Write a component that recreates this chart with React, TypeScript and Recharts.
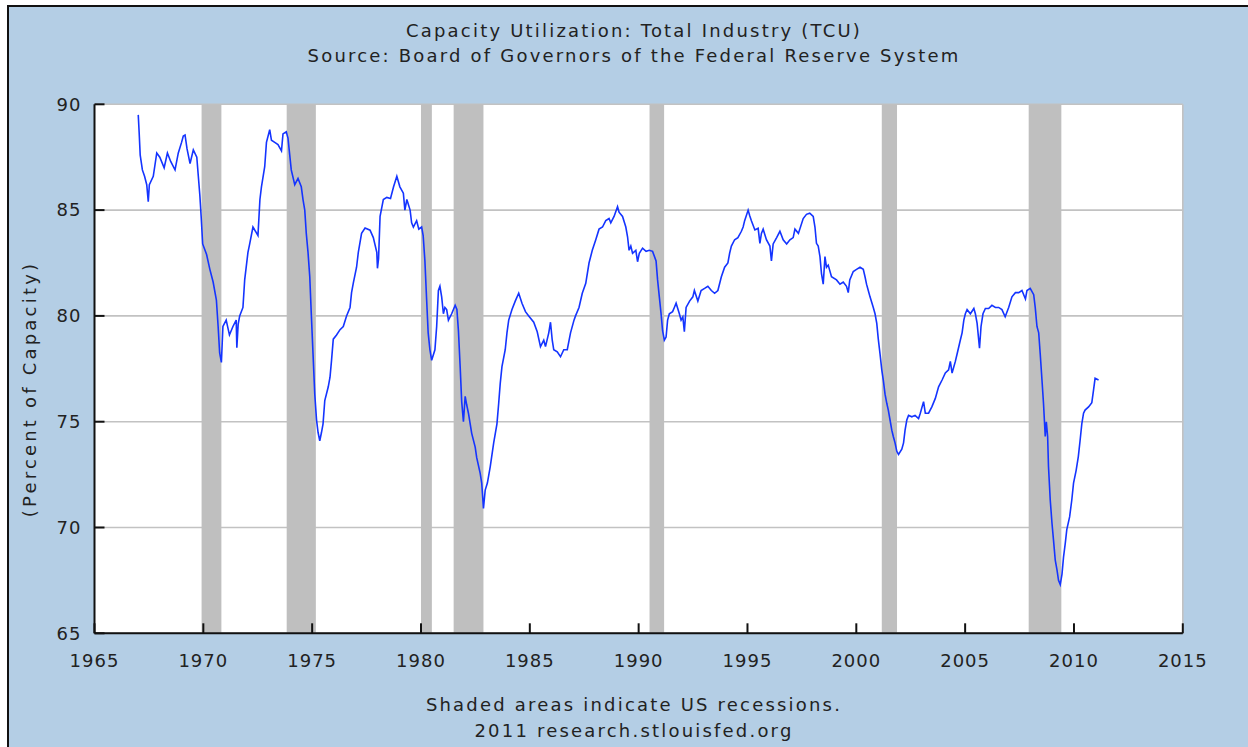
import React from "react";
import {
  LineChart,
  Line,
  XAxis,
  YAxis,
  CartesianGrid,
  ReferenceArea,
  ReferenceLine,
} from "recharts";

// Decimal-year positions of the plotted readings
const dates: number[] = [
  1967.01, 1967.05, 1967.1, 1967.2, 1967.3, 1967.4, 1967.47, 1967.52, 1967.7, 1967.86,
  1968.0, 1968.2, 1968.35, 1968.5, 1968.7, 1968.85, 1969.0, 1969.08, 1969.16, 1969.25,
  1969.39, 1969.54, 1969.7, 1969.77, 1969.84, 1969.9, 1969.97, 1970.15, 1970.3, 1970.45,
  1970.6, 1970.68, 1970.75, 1970.83, 1970.9, 1971.05, 1971.2, 1971.36, 1971.51, 1971.54,
  1971.6, 1971.67, 1971.82, 1971.9, 1972.05, 1972.13, 1972.28, 1972.51, 1972.6, 1972.67,
  1972.82, 1972.9, 1973.05, 1973.13, 1973.28, 1973.43, 1973.59, 1973.66, 1973.81, 1973.89,
  1973.97, 1974.04, 1974.2, 1974.35, 1974.5, 1974.58, 1974.66, 1974.73, 1974.81, 1974.89,
  1974.96, 1975.04, 1975.12, 1975.2, 1975.27, 1975.35, 1975.43, 1975.5, 1975.58, 1975.74,
  1975.82, 1975.89, 1975.97, 1976.12, 1976.28, 1976.43, 1976.58, 1976.74, 1976.81, 1976.89,
  1977.04, 1977.12, 1977.27, 1977.43, 1977.66, 1977.81, 1977.97, 1978.0, 1978.05, 1978.12,
  1978.27, 1978.43, 1978.6, 1978.74, 1978.89, 1979.03, 1979.19, 1979.26, 1979.35, 1979.5,
  1979.57, 1979.65, 1979.8, 1979.9, 1980.03, 1980.1, 1980.18, 1980.26, 1980.33, 1980.41,
  1980.49, 1980.64, 1980.72, 1980.8, 1980.87, 1980.95, 1981.03, 1981.1, 1981.18, 1981.26,
  1981.41, 1981.57, 1981.65, 1981.72, 1981.8, 1981.87, 1981.95, 1982.03, 1982.1, 1982.18,
  1982.33, 1982.49, 1982.56, 1982.72, 1982.79, 1982.87, 1982.95, 1983.05, 1983.18, 1983.34,
  1983.49, 1983.57, 1983.64, 1983.72, 1983.87, 1983.95, 1984.03, 1984.18, 1984.33, 1984.49,
  1984.64, 1984.8, 1984.95, 1985.18, 1985.34, 1985.49, 1985.64, 1985.72, 1985.87, 1985.95,
  1986.03, 1986.1, 1986.26, 1986.41, 1986.56, 1986.72, 1986.87, 1987.03, 1987.1, 1987.26,
  1987.41, 1987.57, 1987.72, 1987.87, 1988.03, 1988.18, 1988.34, 1988.49, 1988.64, 1988.72,
  1988.87, 1989.03, 1989.1, 1989.26, 1989.41, 1989.49, 1989.56, 1989.64, 1989.72, 1989.87,
  1989.95, 1990.03, 1990.18, 1990.34, 1990.49, 1990.64, 1990.8, 1990.87, 1990.95, 1991.03,
  1991.1, 1991.18, 1991.26, 1991.33, 1991.41, 1991.56, 1991.64, 1991.72, 1991.87, 1991.95,
  1992.03, 1992.1, 1992.18, 1992.34, 1992.49, 1992.56, 1992.72, 1992.87, 1993.03, 1993.18,
  1993.34, 1993.49, 1993.64, 1993.8, 1993.95, 1994.1, 1994.18, 1994.26, 1994.41, 1994.56,
  1994.72, 1994.8, 1994.87, 1995.03, 1995.1, 1995.18, 1995.34, 1995.49, 1995.57, 1995.64,
  1995.72, 1995.87, 1996.03, 1996.1, 1996.18, 1996.34, 1996.49, 1996.64, 1996.8, 1996.95,
  1997.1, 1997.18, 1997.34, 1997.56, 1997.71, 1997.86, 1998.02, 1998.1, 1998.17, 1998.25,
  1998.33, 1998.4, 1998.48, 1998.56, 1998.63, 1998.71, 1998.86, 1999.09, 1999.25, 1999.4,
  1999.55, 1999.63, 1999.7, 1999.86, 2000.01, 2000.17, 2000.32, 2000.4, 2000.47, 2000.55,
  2000.63, 2000.78, 2000.86, 2000.94, 2001.01, 2001.09, 2001.17, 2001.24, 2001.32, 2001.4,
  2001.47, 2001.55, 2001.63, 2001.7, 2001.78, 2001.86, 2001.94, 2002.09, 2002.17, 2002.24,
  2002.32, 2002.4, 2002.55, 2002.7, 2002.86, 2002.94, 2003.09, 2003.17, 2003.32, 2003.47,
  2003.63, 2003.78, 2003.94, 2004.09, 2004.24, 2004.32, 2004.4, 2004.55, 2004.63, 2004.78,
  2004.86, 2004.94, 2005.01, 2005.09, 2005.24, 2005.4, 2005.47, 2005.55, 2005.66, 2005.73,
  2005.82, 2005.93, 2006.08, 2006.23, 2006.39, 2006.54, 2006.69, 2006.84, 2007.0, 2007.15,
  2007.31, 2007.46, 2007.61, 2007.77, 2007.84, 2007.99, 2008.15, 2008.22, 2008.3, 2008.38,
  2008.45, 2008.53, 2008.6, 2008.68, 2008.73, 2008.79, 2008.83, 2008.91, 2008.99, 2009.06,
  2009.14, 2009.22, 2009.29, 2009.37, 2009.45, 2009.52, 2009.6, 2009.67, 2009.8, 2009.9,
  2009.98, 2010.1, 2010.2, 2010.28, 2010.36, 2010.44, 2010.51, 2010.67, 2010.82, 2010.9,
  2010.97, 2011.13,
];

// Capacity utilization, percent of capacity
const tcu: number[] = [
  89.5, 88.7, 87.6, 86.9, 86.6, 86.2, 85.4, 86.2, 86.6, 87.7,
  87.5, 87.0, 87.7, 87.3, 86.9, 87.7, 88.2, 88.5, 88.55, 87.9,
  87.2, 87.85, 87.5, 86.6, 85.7, 84.7, 83.4, 82.9, 82.2, 81.6,
  80.75, 79.5, 78.25, 77.8, 79.5, 79.8, 79.1, 79.5, 79.8, 78.5,
  79.6, 80.0, 80.4, 81.7, 83.0, 83.4, 84.2, 83.8, 85.5, 86.1,
  87.05, 88.2, 88.8, 88.3, 88.2, 88.1, 87.8, 88.6, 88.7, 88.4,
  87.6, 86.9, 86.2, 86.5, 86.1, 85.5, 85.0, 83.9, 83.0, 81.85,
  80.1, 78.2, 76.3, 75.1, 74.5, 74.1, 74.5, 74.9, 76.0, 76.65,
  77.1, 77.9, 78.9, 79.1, 79.35, 79.5, 80.0, 80.4, 81.1, 81.55,
  82.3, 83.0, 83.9, 84.15, 84.05, 83.7, 83.0, 82.25, 82.7, 84.7,
  85.5, 85.6, 85.55, 86.1, 86.6, 86.1, 85.8, 85.0, 85.5, 85.0,
  84.4, 84.2, 84.5, 84.1, 84.2, 83.8, 82.6, 80.75, 79.2, 78.4,
  77.9, 78.4, 79.5, 81.2, 81.4, 80.9, 80.1, 80.4, 80.3, 79.8,
  80.1, 80.5, 80.3, 79.3, 77.6, 75.95, 75.0, 76.2, 75.8, 75.4,
  74.45, 73.8, 73.3, 72.56, 72.1, 70.9, 71.77, 72.1, 72.87, 74.0,
  74.9, 75.87, 76.8, 77.6, 78.4, 79.2, 79.8, 80.3, 80.7, 81.07,
  80.6, 80.2, 80.0, 79.7, 79.25, 78.55, 78.85, 78.55, 79.2, 79.7,
  78.85, 78.4, 78.3, 78.07, 78.4, 78.4, 79.2, 79.8, 80.0, 80.4,
  81.07, 81.54, 82.5, 83.1, 83.6, 84.1, 84.2, 84.5, 84.6, 84.4,
  84.7, 85.16, 84.9, 84.7, 84.2, 83.74, 83.1, 83.3, 82.96, 83.1,
  82.56, 82.96, 83.2, 83.05, 83.1, 83.05, 82.6, 81.7, 80.9, 80.1,
  79.3, 78.85, 79.0, 79.8, 80.1, 80.2, 80.4, 80.6, 80.1, 79.8,
  79.95, 79.25, 80.4, 80.7, 80.9, 81.2, 80.7, 81.2, 81.3, 81.4,
  81.2, 81.07, 81.2, 81.85, 82.3, 82.5, 82.96, 83.3, 83.6, 83.7,
  84.0, 84.2, 84.5, 85.0, 84.75, 84.5, 84.06, 84.14, 83.43, 83.9,
  84.1, 83.6, 83.3, 82.6, 83.4, 83.7, 84.0, 83.6, 83.4, 83.6,
  83.7, 84.1, 83.9, 84.6, 84.8, 84.85, 84.7, 84.2, 83.43, 83.3,
  82.8, 82.0, 81.5, 82.8, 82.3, 82.4, 81.85, 81.7, 81.5, 81.6,
  81.4, 81.1, 81.7, 82.1, 82.2, 82.3, 82.2, 81.85, 81.5, 81.2,
  80.9, 80.4, 80.1, 79.65, 78.9, 78.2, 77.45, 76.97, 76.3, 75.87,
  75.55, 75.08, 74.6, 74.3, 74.0, 73.6, 73.45, 73.7, 74.0, 74.6,
  75.08, 75.3, 75.23, 75.3, 75.15, 75.4, 75.95, 75.4, 75.4, 75.7,
  76.1, 76.65, 76.97, 77.3, 77.45, 77.85, 77.3, 77.85, 78.2, 78.86,
  79.2, 79.8, 80.1, 80.3, 80.1, 80.35, 80.1, 79.65, 78.47, 79.5,
  80.1, 80.35, 80.35, 80.5, 80.4, 80.4, 80.3, 79.96, 80.4, 80.9,
  81.1, 81.1, 81.2, 80.8, 81.2, 81.3, 81.0, 80.4, 79.5, 79.2,
  78.2, 76.97, 75.87, 74.3, 75.0, 74.3, 72.87, 71.3, 70.2, 69.4,
  68.46, 68.0, 67.5, 67.3, 67.8, 68.6, 69.25, 69.9, 70.5, 71.3,
  72.1, 72.7, 73.35, 74.1, 74.9, 75.4, 75.55, 75.7, 75.9, 76.5,
  77.05, 76.97,
];

// US recessions (decimal years)
const recessionStarts: number[] = [1969.92, 1973.83, 1980.0, 1981.5, 1990.5, 2001.17, 2007.92];
const recessionEnds: number[] = [1970.83, 1975.17, 1980.5, 1982.87, 1991.17, 2001.87, 2009.42];

const xTicks: number[] = [1965, 1970, 1975, 1980, 1985, 1990, 1995, 2000, 2005, 2010, 2015];
const yTicks: number[] = [65, 70, 75, 80, 85, 90];

const titleLines: string[] = [
  "Capacity Utilization: Total Industry (TCU)",
  "Source: Board of Governors of the Federal Reserve System",
];
const footerLines: string[] = [
  "Shaded areas indicate US recessions.",
  "2011 research.stlouisfed.org",
];
const yLabel = "(Percent of Capacity)";

const chartData = dates.map((d, i) => ({ date: d, tcu: tcu[i] }));

const FONT = "'DejaVu Sans', Verdana, sans-serif";
const TEXT = "#222222";
const AXIS = "#111111";
const TICK_LEN = 10;
const X_LABEL_GAP = 21; // axis -> label anchor
const Y_LABEL_GAP = 13;

const textStyle: React.CSSProperties = {
  position: "absolute",
  left: 0,
  width: 1268,
  textAlign: "center",
  fontFamily: FONT,
  fontSize: 18,
  letterSpacing: 2.2,
  color: TEXT,
  whiteSpace: "nowrap",
  lineHeight: "20px",
};

// Bottom-axis tick: inward (upward) tick mark plus label
const XTick = (props: any) => {
  const { x, y, payload } = props;
  const axisY = y - X_LABEL_GAP;
  return (
    <g>
      <line x1={x} x2={x} y1={axisY} y2={axisY - TICK_LEN} stroke={AXIS} strokeWidth={2} />
      <text
        x={x}
        y={y}
        dy="0.71em"
        textAnchor="middle"
        fill={TEXT}
        fontSize={18}
        fontFamily={FONT}
        letterSpacing={1}
      >
        {payload.value}
      </text>
    </g>
  );
};

// Left-axis tick: inward (rightward) tick mark plus label
const YTick = (props: any) => {
  const { x, y, payload } = props;
  const axisX = x + Y_LABEL_GAP;
  return (
    <g>
      <line x1={axisX} x2={axisX + TICK_LEN} y1={y} y2={y} stroke={AXIS} strokeWidth={2} />
      <text
        x={x}
        y={y}
        dy="0.355em"
        textAnchor="end"
        fill={TEXT}
        fontSize={18}
        fontFamily={FONT}
        letterSpacing={1}
      >
        {payload.value}
      </text>
    </g>
  );
};

export default function App() {
  return (
    <div style={{ position: "absolute", left: 0, top: 0, width: 1248, height: 747, background: "#ffffff", overflow: "hidden" }}>
      <div
        style={{
          position: "absolute",
          left: 7,
          top: 5,
          width: 1241,
          height: 742,
          background: "#b4cee5",
          borderTop: "2px solid #111",
          borderLeft: "2px solid #111",
          boxSizing: "border-box",
        }}
      />
      <div style={{ ...textStyle, top: 21 }}>{titleLines[0]}</div>
      <div style={{ ...textStyle, top: 46 }}>{titleLines[1]}</div>
      <div style={{ ...textStyle, top: 695 }}>{footerLines[0]}</div>
      <div style={{ ...textStyle, top: 721 }}>{footerLines[1]}</div>
      <div
        style={{
          position: "absolute",
          left: 30,
          top: 389,
          transform: "translate(-50%, -50%) rotate(-90deg)",
          fontFamily: FONT,
          fontSize: 18,
          letterSpacing: 3.2,
          color: TEXT,
          whiteSpace: "nowrap",
          lineHeight: "20px",
        }}
      >
        {yLabel}
      </div>
      <div style={{ position: "absolute", left: 0, top: 0 }}>
        <LineChart
          width={1248}
          height={747}
          data={chartData}
          margin={{ top: 104.3, right: 65.2, bottom: 83.7, left: 34.5 }}
        >
          <CartesianGrid vertical={false} stroke="#c2c2c2" strokeWidth={1.6} fill="#ffffff" />
          {recessionStarts.map((s, i) => (
            <ReferenceArea
              key={i}
              x1={s}
              x2={recessionEnds[i]}
              fill="#bfbfbf"
              fillOpacity={1}
              stroke="none"
            />
          ))}
          <ReferenceLine x={2015} stroke="#c2c2c2" strokeWidth={1.6} />
          <XAxis
            dataKey="date"
            type="number"
            domain={[1965, 2015]}
            ticks={xTicks}
            allowDataOverflow
            tickSize={0}
            tickMargin={X_LABEL_GAP}
            axisLine={{ stroke: AXIS, strokeWidth: 2 }}
            tickLine={false}
            tick={<XTick />}
            interval={0}
          />
          <YAxis
            type="number"
            domain={[65, 90]}
            ticks={yTicks}
            allowDataOverflow
            tickSize={0}
            tickMargin={Y_LABEL_GAP}
            axisLine={{ stroke: AXIS, strokeWidth: 2 }}
            tickLine={false}
            tick={<YTick />}
            interval={0}
          />
          <Line
            type="linear"
            dataKey="tcu"
            stroke="#1434ff"
            strokeWidth={1.6}
            dot={false}
            activeDot={false}
            isAnimationActive={false}
          />
        </LineChart>
      </div>
    </div>
  );
}
